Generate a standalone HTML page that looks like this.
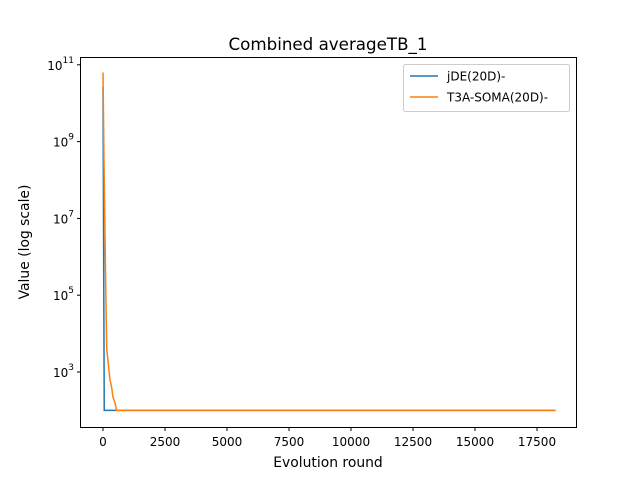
<!DOCTYPE html>
<html><head><meta charset="utf-8"><style>
body{margin:0;background:#fff;}
svg text{font-family:"DejaVu Sans","Liberation Sans",sans-serif;fill:#000;}
</style></head><body>
<svg width="640" height="480" xmlns="http://www.w3.org/2000/svg">
<rect width="640" height="480" fill="#fff"/>
<text x="328" y="50" font-size="16.7" text-anchor="middle">Combined averageTB_1</text>
<g id="grid"></g>
<g id="series"></g>
<rect x="80.5" y="57.5" width="496" height="370" fill="none" stroke="#000" stroke-width="1"/>
<g id="xticks"></g><g id="yticks"></g>
<text x="328" y="467" font-size="13.9" text-anchor="middle">Evolution round</text>
<text transform="translate(29,242) rotate(-90)" font-size="13.9" text-anchor="middle">Value (log scale)</text>
<g>
<rect x="403.5" y="64.5" width="166" height="47" rx="2" fill="#fff" stroke="#ccc"/>
<line x1="410" y1="76" x2="438" y2="76" stroke="#1f77b4" stroke-width="1.5"/>
<text x="447" y="80.5" font-size="12">jDE(20D)-</text>
<line x1="410" y1="97" x2="438" y2="97" stroke="#ff7f0e" stroke-width="1.5"/>
<text x="447" y="101.5" font-size="12">T3A-SOMA(20D)-</text>
</g>
</svg>
<script>
const xTicks=[0,2500,5000,7500,10000,12500,15000,17500];
const yTickExps=[3,5,7,9,11];
const jdeX=[0,50,18250];
const jdeLog=[10.43,2,2];
const t3aX=[0,40,110,150,200,280,350,400,480,550,18250];
const t3aLog=[10.8,8.5,5.2,3.6,3.3,2.8,2.6,2.35,2.2,2,2];
const NS="http://www.w3.org/2000/svg";
const svg=document.querySelector('svg');
function X(v){return 103+v*(62/2500);}
function Y(l){return 372-(l-3)*38.4;}
function el(t,a,p){const e=document.createElementNS(NS,t);for(const k in a)e.setAttribute(k,a[k]);(p||svg).appendChild(e);return e;}
const xg=document.getElementById('xticks'),yg=document.getElementById('yticks'),sg=document.getElementById('series');
xTicks.forEach(v=>{const x=X(v);
 const l=el('line',{x1:x,y1:427.5,x2:x,y2:431,stroke:'#000'},xg);
 
 
 const t=el('text',{x:x,y:446,'font-size':12,'text-anchor':'middle'},xg);t.textContent=v;
 
 
});
yTickExps.forEach(e=>{const y=Y(e);
 const l=el('line',{x1:77,y1:y,x2:80.5,y2:y,stroke:'#000'},yg);
 
 
 const t=el('text',{x:74,y:y+5,'font-size':12,'text-anchor':'end'},yg);
 t.innerHTML='10<tspan dy="-7" font-size="9">'+e+'</tspan>';
 
 
});
function line(xs,ls,c,name){
 const p=el('polyline',{points:xs.map((x,i)=>X(x)+','+Y(ls[i])).join(' '),fill:'none',stroke:c,'stroke-width':1.5},sg);
 
 
}
line(jdeX,jdeLog,'#1f77b4','jde-series');
line(t3aX,t3aLog,'#ff7f0e','t3a-soma-series');
</script>
</body></html>
